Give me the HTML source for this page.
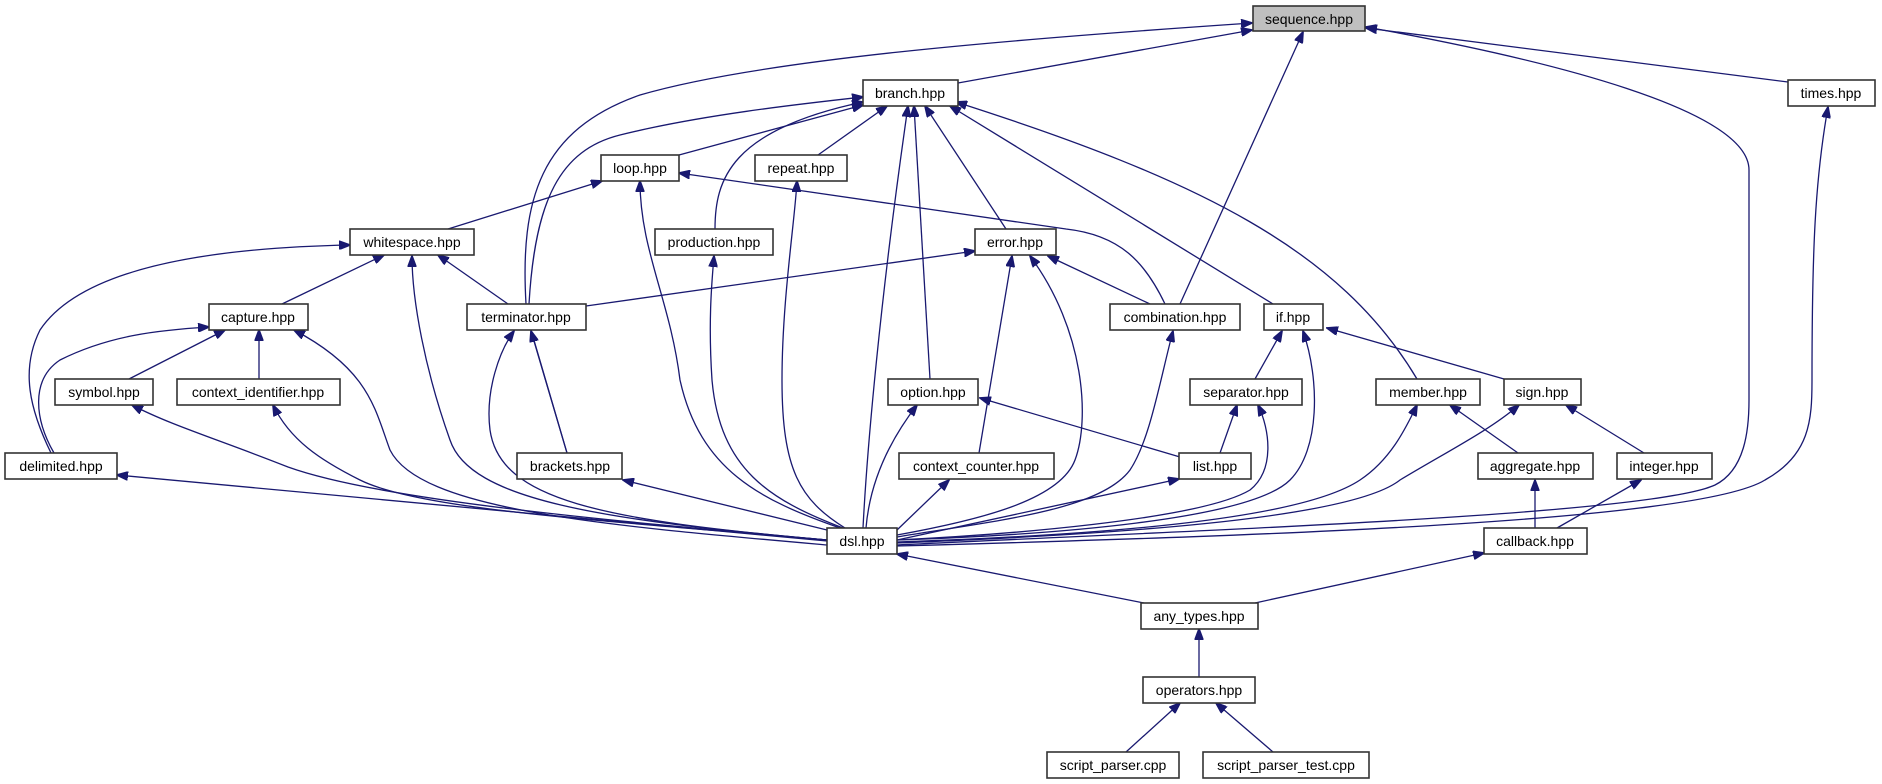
<!DOCTYPE html>
<html><head><meta charset="utf-8"><style>
html,body{margin:0;padding:0;background:#fff;}
svg{display:block;}
text{font-family:"Liberation Sans","DejaVu Sans",sans-serif;font-size:14px;fill:#000;text-anchor:middle;}
.n{fill:#fff;stroke:#333;stroke-width:1.6;}
.e{fill:none;stroke:#191970;stroke-width:1.3;}
</style></head><body>
<svg width="1882" height="784" viewBox="0 0 1882 784" xmlns="http://www.w3.org/2000/svg">
<defs><marker id="a" markerWidth="12" markerHeight="9" refX="11" refY="4.5" orient="auto" markerUnits="userSpaceOnUse"><path d="M0,0 L12,4.5 L0,9 z" fill="#191970" stroke="#191970"/></marker></defs>
<g class="e" marker-end="url(#a)">
<path d="M958,83 L1252,30"/>
<path d="M526,304 C520,200 540,130 640,95 C760,60 1000,40 1252,23"/>
<path d="M1180,304 L1303,32"/>
<path d="M1788,82 L1366,28"/>
<path d="M897,545 C1200,530 1650,515 1715,485 C1745,470 1749,430 1749,400 L1749,170 C1749,110 1550,60 1366,27"/>
<path d="M679,155 L863,105"/>
<path d="M818,155 L887,106"/>
<path d="M715,229 C715,180 730,130 863,102"/>
<path d="M529,304 C535,200 560,150 620,135 C700,115 800,104 863,97"/>
<path d="M863,528 C867,450 880,300 908,106"/>
<path d="M930,379 L914,106"/>
<path d="M1006,229 L925,106"/>
<path d="M1273,304 L950,106"/>
<path d="M1417,379 C1340,250 1200,180 956,102"/>
<path d="M448,229 L602,181"/>
<path d="M1165,304 C1145,262 1120,235 1066,229 L679,173"/>
<path d="M840,528 C760,500 700,470 680,380 C670,300 640,250 640,181"/>
<path d="M845,528 C800,500 782,470 782,380 C782,300 795,220 797,181"/>
<path d="M282,304 L384,255"/>
<path d="M508,304 L438,255"/>
<path d="M51,453 C30,410 20,370 40,330 C80,270 200,248 350,245"/>
<path d="M827,540 C600,520 470,500 450,440 C425,370 412,300 412,256"/>
<path d="M843,528 C770,500 720,470 712,380 C708,320 712,280 714,256"/>
<path d="M586,306 L975,251"/>
<path d="M1150,304 L1048,256"/>
<path d="M979,453 L1012,256"/>
<path d="M897,535 C980,520 1060,500 1075,460 C1090,420 1085,330 1030,256"/>
<path d="M129,379 L225,330"/>
<path d="M259,379 L259,330"/>
<path d="M54,453 C35,420 30,380 60,360 C110,335 160,330 209,327"/>
<path d="M827,545 C600,525 420,510 390,450 C375,410 370,370 294,330"/>
<path d="M531,330 L567,453" style="marker-end:none"/>
<path d="M567,453 L531,331"/>
<path d="M827,540 C600,520 500,500 490,430 C485,390 500,350 514,331"/>
<path d="M897,537 C1000,520 1100,510 1130,470 C1150,440 1160,380 1173,331"/>
<path d="M1255,379 L1282,331"/>
<path d="M897,540 C1050,535 1250,520 1290,480 C1320,450 1320,380 1303,331"/>
<path d="M1504,379 L1327,328"/>
<path d="M827,541 L117,475"/>
<path d="M827,540 C600,520 380,500 288,467 C220,440 170,425 132,405"/>
<path d="M827,540 C600,520 420,510 360,480 C320,460 290,440 273,405"/>
<path d="M866,528 C870,480 890,440 917,405"/>
<path d="M1180,457 L980,398"/>
<path d="M1220,453 L1237,405"/>
<path d="M897,540 C1000,535 1200,520 1250,490 C1275,470 1270,430 1258,405"/>
<path d="M897,542 C1100,535 1300,520 1360,480 C1390,460 1405,430 1417,405"/>
<path d="M1518,453 L1450,405"/>
<path d="M897,543 C1100,535 1350,520 1400,480 C1450,450 1490,430 1519,405"/>
<path d="M1644,453 L1566,405"/>
<path d="M827,530 L623,480"/>
<path d="M897,530 L949,480"/>
<path d="M897,540 L1179,479"/>
<path d="M1535,528 L1535,480"/>
<path d="M1557,528 L1641,480"/>
<path d="M897,546 C1300,535 1700,520 1765,480 C1810,455 1812,420 1812,380 C1812,250 1815,180 1828,107"/>
<path d="M1144,603 L897,554"/>
<path d="M1255,603 L1484,553"/>
<path d="M1199,677 L1199,629"/>
<path d="M1126,752 L1180,703"/>
<path d="M1273,752 L1216,703"/>
</g>
<g>
<rect x="1253" y="6" width="112" height="25" style="fill:#bfbfbf;stroke:#333;stroke-width:1.6"/><text x="1309" y="24">sequence.hpp</text>
<rect class="n" x="863" y="80" width="95" height="26"/><text x="910" y="98">branch.hpp</text>
<rect class="n" x="1788" y="80" width="87" height="26"/><text x="1831" y="98">times.hpp</text>
<rect class="n" x="601" y="155" width="78" height="26"/><text x="640" y="173">loop.hpp</text>
<rect class="n" x="755" y="155" width="92" height="26"/><text x="801" y="173">repeat.hpp</text>
<rect class="n" x="350" y="229" width="124" height="26"/><text x="412" y="247">whitespace.hpp</text>
<rect class="n" x="655" y="229" width="118" height="26"/><text x="714" y="247">production.hpp</text>
<rect class="n" x="975" y="229" width="81" height="26"/><text x="1015" y="247">error.hpp</text>
<rect class="n" x="209" y="304" width="99" height="26"/><text x="258" y="322">capture.hpp</text>
<rect class="n" x="467" y="304" width="119" height="26"/><text x="526" y="322">terminator.hpp</text>
<rect class="n" x="1110" y="304" width="130" height="26"/><text x="1175" y="322">combination.hpp</text>
<rect class="n" x="1264" y="304" width="59" height="26"/><text x="1293" y="322">if.hpp</text>
<rect class="n" x="55" y="379" width="98" height="26"/><text x="104" y="397">symbol.hpp</text>
<rect class="n" x="177" y="379" width="163" height="26"/><text x="258" y="397">context_identifier.hpp</text>
<rect class="n" x="888" y="379" width="90" height="26"/><text x="933" y="397">option.hpp</text>
<rect class="n" x="1190" y="379" width="112" height="26"/><text x="1246" y="397">separator.hpp</text>
<rect class="n" x="1376" y="379" width="104" height="26"/><text x="1428" y="397">member.hpp</text>
<rect class="n" x="1504" y="379" width="77" height="26"/><text x="1542" y="397">sign.hpp</text>
<rect class="n" x="5" y="453" width="112" height="26"/><text x="61" y="471">delimited.hpp</text>
<rect class="n" x="517" y="453" width="105" height="26"/><text x="570" y="471">brackets.hpp</text>
<rect class="n" x="899" y="453" width="155" height="26"/><text x="976" y="471">context_counter.hpp</text>
<rect class="n" x="1179" y="453" width="72" height="26"/><text x="1215" y="471">list.hpp</text>
<rect class="n" x="1478" y="453" width="115" height="26"/><text x="1535" y="471">aggregate.hpp</text>
<rect class="n" x="1617" y="453" width="95" height="26"/><text x="1664" y="471">integer.hpp</text>
<rect class="n" x="827" y="528" width="70" height="26"/><text x="862" y="546">dsl.hpp</text>
<rect class="n" x="1484" y="528" width="103" height="26"/><text x="1535" y="546">callback.hpp</text>
<rect class="n" x="1141" y="603" width="117" height="26"/><text x="1199" y="621">any_types.hpp</text>
<rect class="n" x="1143" y="677" width="112" height="26"/><text x="1199" y="695">operators.hpp</text>
<rect class="n" x="1047" y="752" width="132" height="26"/><text x="1113" y="770">script_parser.cpp</text>
<rect class="n" x="1203" y="752" width="166" height="26"/><text x="1286" y="770">script_parser_test.cpp</text>
</g>
</svg>
</body></html>
